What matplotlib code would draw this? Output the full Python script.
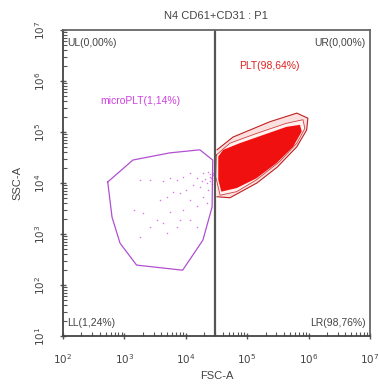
import matplotlib
matplotlib.use("Agg")
import matplotlib.pyplot as plt
from matplotlib.ticker import LogLocator, NullFormatter

plt.rcParams["font.family"] = ["Liberation Sans", "DejaVu Sans"]

# gates (log10 FSC-A, log10 SSC-A)
plt_gate_x = [4.51, 4.77, 5.37, 5.81, 5.99, 5.97, 5.81, 5.49, 5.16, 4.72, 4.51]
plt_gate_y = [4.65, 4.90, 5.20, 5.37, 5.27, 5.04, 4.71, 4.31, 4.00, 3.71, 3.73]

micro_gate_x = [2.73, 3.14, 3.74, 4.23, 4.44, 4.43, 4.28, 3.95, 3.20, 2.93, 2.80]
micro_gate_y = [4.02, 4.45, 4.59, 4.65, 4.45, 3.53, 2.88, 2.29, 2.39, 2.82, 3.33]

# density levels of the PLT population
plt_outer_x = [4.50, 4.72, 5.15, 5.64, 5.91, 5.94, 5.81, 5.53, 5.15, 4.83, 4.56, 4.49]
plt_outer_y = [4.55, 4.78, 4.97, 5.17, 5.24, 5.07, 4.78, 4.42, 4.06, 3.83, 3.76, 4.12]
plt_core_x = [4.53, 4.61, 4.88, 5.26, 5.64, 5.86, 5.89, 5.75, 5.48, 5.15, 4.83, 4.58, 4.53]
plt_core_y = [4.52, 4.65, 4.78, 4.94, 5.10, 5.14, 5.01, 4.71, 4.39, 4.09, 3.90, 3.83, 4.06]

# microPLT events
micro_x = [3.25, 3.42, 3.63, 3.74, 3.85, 3.96, 4.07, 4.18, 4.28, 4.37, 4.39, 4.34,
           4.23, 4.12, 4.01, 3.91, 3.80, 3.69, 3.58, 4.07, 4.18, 4.28, 4.37, 3.96,
           3.74, 3.53, 3.63, 3.85, 3.91, 4.07, 4.18, 3.42, 3.25, 3.31, 3.15, 3.69,
           4.34, 4.39, 4.42, 4.31, 4.26, 4.45, 4.46, 4.44, 4.43, 4.46, 4.40]
micro_y = [4.06, 4.06, 4.03, 4.09, 4.06, 4.12, 4.19, 4.09, 4.19, 4.22, 4.12, 3.99,
           3.93, 3.96, 3.86, 3.80, 3.83, 3.73, 3.67, 3.67, 3.54, 3.73, 3.86, 3.47,
           3.44, 3.27, 3.21, 3.14, 3.27, 3.27, 3.14, 3.14, 2.95, 3.41, 3.47, 3.01,
           3.60, 4.03, 4.09, 4.07, 4.03, 4.15, 4.05, 4.20, 3.98, 4.25, 4.17]

quad_x = 4.475
quad_labels = ["UL(0,00%)", "UR(0,00%)", "LL(1,24%)", "LR(98,76%)"]
x_decades = [2, 3, 4, 5, 6, 7]
y_decades = [1, 2, 3, 4, 5, 6, 7]

fig = plt.figure(figsize=(3.79, 3.84), dpi=100)
ax = fig.add_axes([0.166, 0.125, 0.81, 0.797])

def p(v):
    return [10 ** a for a in v]

ax.fill(p(plt_gate_x), p(plt_gate_y), color="#fbe0e0", lw=0)
ax.fill(p(plt_outer_x), p(plt_outer_y), color="#fff2f0", lw=0)
ax.fill(p(plt_core_x), p(plt_core_y), color="#f01010", lw=0)
ax.plot(p(plt_gate_x), p(plt_gate_y), color="#c02020", lw=0.8)
ax.plot(p(plt_outer_x + plt_outer_x[:1]), p(plt_outer_y + plt_outer_y[:1]), color="#d04040", lw=0.6)

ax.scatter(p(micro_x), p(micro_y), s=1.2, color="#e070f0", lw=0)
ax.plot(p(micro_gate_x + micro_gate_x[:1]), p(micro_gate_y + micro_gate_y[:1]),
        color="#b050d0", lw=0.9)

ax.axvline(10 ** quad_x, color="#555555", lw=1.6)

ax.set_xscale("log")
ax.set_yscale("log")
ax.set_xticks(p(x_decades), [f"$10^{{{d}}}$" for d in x_decades])
ax.set_yticks(p(y_decades), [f"$10^{{{d}}}$" for d in y_decades])
for axis in (ax.xaxis, ax.yaxis):
    axis.set_minor_locator(LogLocator(base=10, subs=range(2, 10), numticks=20))
    axis.set_minor_formatter(NullFormatter())
ax.set_xlim(1e2, 1e7)
ax.set_ylim(1e1, 1e7)
for s in ax.spines.values():
    s.set_color("#666666")
    s.set_linewidth(1.3)
ax.spines["left"].set_color("#444444")
ax.spines["bottom"].set_color("#444444")

ax.tick_params(which="major", direction="inout", length=5, width=1, colors="#555555",
               labelsize=7.5, labelcolor="#444444")
ax.tick_params(axis="x", which="major", pad=9)
ax.tick_params(axis="y", which="major", pad=9)
ax.tick_params(which="minor", direction="in", length=3, width=0.8, colors="#555555")
for lab in ax.get_yticklabels():
    lab.set_rotation(90)
    lab.set_va("center")

ax.set_xlabel("FSC-A", fontsize=8, color="#444444", labelpad=4)
ax.set_ylabel("SSC-A", fontsize=8, color="#444444", labelpad=8)
ax.set_title("N4 CD61+CD31 : P1", fontsize=8, color="#444444", pad=8)

tkw = dict(fontsize=7.5, color="#444444", transform=ax.transAxes)
ax.text(0.015, 0.975, quad_labels[0], ha="left", va="top", **tkw)
ax.text(0.985, 0.975, quad_labels[1], ha="right", va="top", **tkw)
ax.text(0.015, 0.025, quad_labels[2], ha="left", va="bottom", **tkw)
ax.text(0.985, 0.025, quad_labels[3], ha="right", va="bottom", **tkw)

ax.text(2.3e5, 2.0e6, "PLT(98,64%)", color="#e02020", fontsize=7.5, ha="center", va="center")
ax.text(1.8e3, 4.0e5, "microPLT(1,14%)", color="#d040e0", fontsize=7.5, ha="center", va="center")

fig.savefig("out.png", dpi=100)
